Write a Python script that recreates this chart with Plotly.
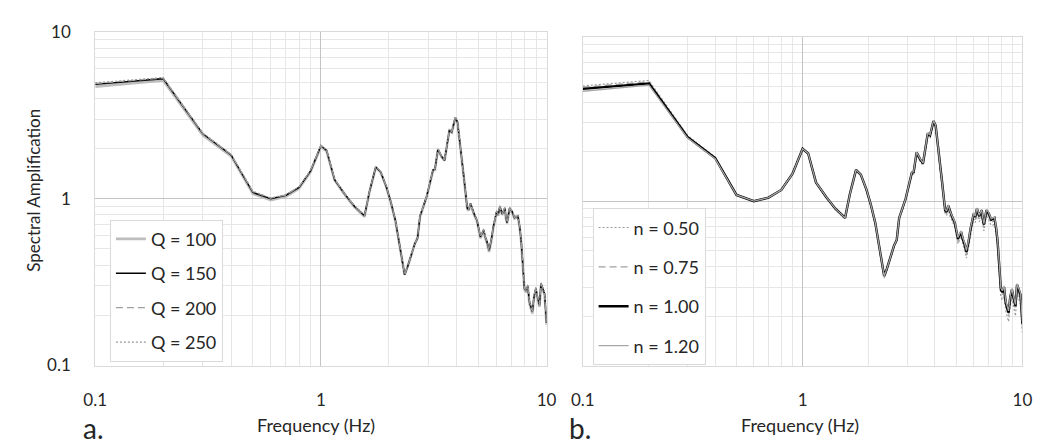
import plotly.graph_objects as go

# Frequencies (Hz) shared by every spectrum
freq = [0.10, 0.20, 0.30, 0.40, 0.50, 0.60, 0.70, 0.80, 0.90, 1.00,
        1.06, 1.15, 1.28, 1.41, 1.56, 1.64, 1.75, 1.84, 1.95, 2.04,
        2.14, 2.25, 2.35, 2.42, 2.49, 2.61, 2.68, 2.75, 2.94, 3.05,
        3.14, 3.20, 3.30, 3.42, 3.53, 3.62, 3.71, 3.80, 3.94, 4.03,
        4.10, 4.17, 4.31, 4.45, 4.52, 4.60, 4.68, 4.76, 4.92, 5.09,
        5.18, 5.26, 5.35, 5.45, 5.56, 5.68, 5.81, 6.01, 6.10, 6.21,
        6.36, 6.53, 6.60, 6.68, 6.86, 7.03, 7.21, 7.46, 7.60, 7.71,
        7.85, 7.98, 8.11, 8.25, 8.40, 8.53, 8.65, 8.80, 8.96, 9.10,
        9.30, 9.45, 9.60, 9.80, 10.0]

# Panel a: quality factor Q
amp_q100 = [4.70, 5.12, 2.40, 1.80, 1.07, 0.98, 1.03, 1.15, 1.45, 2.05,
            1.93, 1.29, 1.05, 0.89, 0.78, 1.09, 1.54, 1.44, 1.17, 0.95,
            0.73, 0.50, 0.35, 0.39, 0.44, 0.54, 0.58, 0.78, 1.02, 1.24,
            1.48, 1.49, 1.97, 1.79, 1.69, 2.09, 2.56, 2.50, 3.05, 2.86,
            2.28, 1.85, 1.30, 0.87, 0.85, 0.93, 0.85, 0.81, 0.73, 0.58,
            0.61, 0.64, 0.58, 0.54, 0.48, 0.55, 0.67, 0.83, 0.79, 0.89,
            0.80, 0.87, 0.77, 0.71, 0.87, 0.83, 0.76, 0.78, 0.67, 0.56,
            0.39, 0.285, 0.275, 0.295, 0.235, 0.22, 0.205, 0.255, 0.285, 0.255,
            0.225, 0.305, 0.285, 0.265, 0.175]
amp_q150 = [4.85, 5.25, 2.45, 1.83, 1.09, 1.00, 1.05, 1.17, 1.47, 2.08,
            1.95, 1.30, 1.06, 0.90, 0.79, 1.10, 1.55, 1.45, 1.18, 0.96,
            0.74, 0.50, 0.35, 0.39, 0.44, 0.54, 0.58, 0.79, 1.03, 1.25,
            1.49, 1.50, 1.98, 1.80, 1.70, 2.10, 2.58, 2.51, 3.07, 2.88,
            2.30, 1.86, 1.31, 0.88, 0.86, 0.94, 0.86, 0.82, 0.74, 0.59,
            0.62, 0.65, 0.59, 0.55, 0.49, 0.56, 0.68, 0.84, 0.80, 0.90,
            0.81, 0.88, 0.78, 0.72, 0.88, 0.84, 0.77, 0.79, 0.68, 0.57,
            0.40, 0.29, 0.28, 0.30, 0.24, 0.225, 0.21, 0.26, 0.29, 0.26,
            0.23, 0.31, 0.29, 0.27, 0.18]
amp_q200 = [4.91, 5.29, 2.46, 1.84, 1.10, 1.01, 1.05, 1.18, 1.48, 2.09,
            1.96, 1.31, 1.06, 0.90, 0.79, 1.10, 1.56, 1.46, 1.18, 0.96,
            0.74, 0.50, 0.35, 0.39, 0.44, 0.54, 0.58, 0.79, 1.03, 1.25,
            1.50, 1.51, 1.99, 1.81, 1.71, 2.11, 2.59, 2.52, 3.08, 2.89,
            2.31, 1.87, 1.31, 0.88, 0.86, 0.94, 0.86, 0.82, 0.74, 0.59,
            0.62, 0.65, 0.59, 0.55, 0.49, 0.56, 0.68, 0.84, 0.80, 0.90,
            0.81, 0.88, 0.78, 0.72, 0.88, 0.84, 0.77, 0.79, 0.68, 0.57,
            0.40, 0.29, 0.28, 0.30, 0.24, 0.225, 0.21, 0.26, 0.29, 0.26,
            0.23, 0.31, 0.29, 0.27, 0.18]
amp_q250 = [4.96, 5.33, 2.48, 1.85, 1.11, 1.01, 1.06, 1.18, 1.48, 2.10,
            1.96, 1.31, 1.07, 0.91, 0.80, 1.11, 1.56, 1.46, 1.19, 0.97,
            0.75, 0.51, 0.355, 0.395, 0.445, 0.545, 0.585, 0.80, 1.04, 1.26,
            1.50, 1.51, 1.99, 1.81, 1.71, 2.11, 2.60, 2.53, 3.09, 2.90,
            2.32, 1.87, 1.32, 0.89, 0.87, 0.95, 0.87, 0.83, 0.75, 0.60,
            0.63, 0.66, 0.60, 0.56, 0.50, 0.57, 0.69, 0.85, 0.81, 0.91,
            0.82, 0.89, 0.79, 0.73, 0.89, 0.85, 0.78, 0.80, 0.69, 0.58,
            0.41, 0.295, 0.285, 0.305, 0.245, 0.23, 0.215, 0.265, 0.295, 0.265,
            0.235, 0.315, 0.295, 0.275, 0.185]

# Panel b: exponent n
amp_n050 = [5.02, 5.42, 2.50, 1.85, 1.10, 1.00, 1.05, 1.17, 1.47, 2.08,
            1.94, 1.29, 1.05, 0.89, 0.78, 1.09, 1.53, 1.43, 1.16, 0.95,
            0.73, 0.49, 0.34, 0.38, 0.43, 0.53, 0.57, 0.77, 1.01, 1.22,
            1.45, 1.46, 1.93, 1.75, 1.65, 2.04, 2.50, 2.43, 2.97, 2.78,
            2.22, 1.79, 1.26, 0.84, 0.82, 0.89, 0.81, 0.77, 0.70, 0.55,
            0.58, 0.61, 0.55, 0.51, 0.45, 0.52, 0.63, 0.78, 0.74, 0.83,
            0.75, 0.81, 0.72, 0.66, 0.81, 0.77, 0.71, 0.72, 0.62, 0.52,
            0.36, 0.26, 0.25, 0.27, 0.215, 0.20, 0.185, 0.23, 0.26, 0.23,
            0.20, 0.275, 0.255, 0.235, 0.155]
amp_n075 = [4.93, 5.32, 2.47, 1.84, 1.10, 1.00, 1.05, 1.17, 1.47, 2.08,
            1.95, 1.30, 1.06, 0.90, 0.79, 1.10, 1.54, 1.44, 1.17, 0.95,
            0.74, 0.50, 0.35, 0.39, 0.44, 0.54, 0.58, 0.78, 1.02, 1.24,
            1.47, 1.48, 1.96, 1.78, 1.68, 2.07, 2.54, 2.47, 3.02, 2.83,
            2.26, 1.83, 1.29, 0.86, 0.84, 0.92, 0.84, 0.80, 0.72, 0.57,
            0.60, 0.63, 0.57, 0.53, 0.47, 0.54, 0.66, 0.81, 0.77, 0.87,
            0.78, 0.85, 0.75, 0.69, 0.85, 0.81, 0.74, 0.76, 0.65, 0.55,
            0.38, 0.28, 0.27, 0.29, 0.23, 0.215, 0.20, 0.25, 0.28, 0.25,
            0.22, 0.295, 0.275, 0.255, 0.17]
amp_n100 = [4.82, 5.20, 2.45, 1.83, 1.09, 1.00, 1.05, 1.17, 1.47, 2.08,
            1.95, 1.30, 1.06, 0.90, 0.79, 1.10, 1.55, 1.45, 1.18, 0.96,
            0.74, 0.50, 0.35, 0.39, 0.44, 0.54, 0.58, 0.79, 1.03, 1.25,
            1.49, 1.50, 1.98, 1.80, 1.70, 2.10, 2.58, 2.51, 3.07, 2.88,
            2.30, 1.86, 1.31, 0.88, 0.86, 0.94, 0.86, 0.82, 0.74, 0.59,
            0.62, 0.65, 0.59, 0.55, 0.49, 0.56, 0.68, 0.84, 0.80, 0.90,
            0.81, 0.88, 0.78, 0.72, 0.88, 0.84, 0.77, 0.79, 0.68, 0.57,
            0.40, 0.29, 0.28, 0.30, 0.24, 0.225, 0.21, 0.26, 0.29, 0.26,
            0.23, 0.31, 0.29, 0.27, 0.18]
amp_n120 = [4.66, 5.08, 2.42, 1.81, 1.09, 1.00, 1.05, 1.17, 1.47, 2.08,
            1.95, 1.30, 1.06, 0.90, 0.79, 1.10, 1.55, 1.45, 1.18, 0.96,
            0.74, 0.50, 0.35, 0.39, 0.44, 0.54, 0.58, 0.79, 1.03, 1.25,
            1.50, 1.51, 1.99, 1.81, 1.71, 2.11, 2.60, 2.53, 3.09, 2.90,
            2.32, 1.88, 1.32, 0.89, 0.87, 0.95, 0.87, 0.83, 0.75, 0.60,
            0.63, 0.66, 0.60, 0.56, 0.50, 0.57, 0.69, 0.85, 0.81, 0.91,
            0.82, 0.89, 0.79, 0.73, 0.89, 0.85, 0.78, 0.80, 0.69, 0.58,
            0.41, 0.295, 0.285, 0.305, 0.245, 0.23, 0.215, 0.265, 0.295, 0.265,
            0.235, 0.315, 0.295, 0.275, 0.185]

labels_a = ["Q = 100", "Q = 150", "Q = 200", "Q = 250"]
labels_b = ["n = 0.50", "n = 0.75", "n = 1.00", "n = 1.20"]
tick_vals = [0.1, 1, 10]
tick_text = ["0.1", "1", "10"]
minor_vals = [0.2, 0.3, 0.4, 0.5, 0.6, 0.7, 0.8, 0.9, 2, 3, 4, 5, 6, 7, 8, 9]

FONT = "Lato"
TXT = "#262626"

fig = go.Figure()

styles_a = [
    dict(color="#bdbdbd", width=2.6),
    dict(color="#000000", width=1.5),
    dict(color="#a0a0a0", width=1.2, dash="7px,4px"),
    dict(color="#9a9a9a", width=1.2, dash="2px,2px"),
]
for name, ys, st in zip(labels_a, [amp_q100, amp_q150, amp_q200, amp_q250], styles_a):
    fig.add_trace(go.Scatter(x=freq, y=ys, name=name, mode="lines", line=st,
                             xaxis="x", yaxis="y", legend="legend",
                             legendgroup=name))

styles_b = [
    dict(color="#9a9a9a", width=1.2, dash="2px,2px"),
    dict(color="#a0a0a0", width=1.2, dash="7px,4px"),
    dict(color="#000000", width=2.4),
    dict(color="#a6a6a6", width=1.3),
]
for name, ys, st in zip(labels_b, [amp_n050, amp_n075, amp_n100, amp_n120], styles_b):
    fig.add_trace(go.Scatter(x=freq, y=ys, name=name, mode="lines", line=st,
                             xaxis="x2", yaxis="y2", legend="legend2",
                             legendgroup=name))

W, H = 1052, 447


def axis(domain, show_labels=True, standoff=20):
    return dict(
        type="log", range=[-1, 1], domain=domain,
        tickmode="array", tickvals=tick_vals, ticktext=tick_text,
        showticklabels=show_labels, ticks="",
        ticklabelstandoff=standoff,
        showgrid=True, gridcolor="#c4c4c4", gridwidth=1,
        minor=dict(tickmode="array", tickvals=minor_vals, showgrid=True,
                   gridcolor="#e6e6e6", gridwidth=1, ticks=""),
        showline=True, mirror=True, linecolor="#d9d9d9", linewidth=1,
        zeroline=False, fixedrange=True,
        tickfont=dict(family=FONT, size=17, color=TXT),
    )


fig.update_layout(
    width=W, height=H,
    margin=dict(l=0, r=0, t=0, b=0),
    paper_bgcolor="white", plot_bgcolor="white",
    font=dict(family=FONT, color=TXT),
    xaxis=axis([85 / W, 546 / W], standoff=19),
    yaxis=axis([1 - 372 / H, 1 - 22 / H], standoff=20),
    xaxis2=dict(axis([583 / W, 1032 / W], standoff=19), anchor="y2"),
    yaxis2=dict(axis([1 - 372 / H, 1 - 27 / H], show_labels=False), anchor="x2"),
    legend=dict(x=100 / W, y=1 - 219 / H, xanchor="left", yanchor="top",
                bgcolor="white", bordercolor="#d9d9d9", borderwidth=1,
                font=dict(family=FONT, size=18, color=TXT),
                itemwidth=30, tracegroupgap=8),
    legend2=dict(x=593 / W, y=1 - 207 / H, xanchor="left", yanchor="top",
                 bgcolor="white", bordercolor="#d9d9d9", borderwidth=1,
                 font=dict(family=FONT, size=18, color=TXT),
                 itemwidth=30, tracegroupgap=13),
    showlegend=True,
)

ann = [
    dict(text="Spectral Amplification", x=22 / W, y=1 - 188 / H, textangle=-90,
         font=dict(size=17)),
    dict(text="Frequency (Hz)", x=310 / W, y=1 - 434 / H, font=dict(size=18)),
    dict(text="Frequency (Hz)", x=805 / W, y=1 - 434 / H, font=dict(size=18)),
]
for a in ann:
    fig.add_annotation(xref="paper", yref="paper", showarrow=False,
                       xanchor="center", yanchor="middle", **a)
for letter, x0 in [("a.", 70), ("b.", 567)]:
    fig.add_annotation(text=letter, xref="paper", yref="paper", x=x0 / W, y=-10 / H,
                       xanchor="left", yanchor="bottom", showarrow=False,
                       font=dict(size=28, family=FONT, color=TXT))

fig.write_html("out.html")
